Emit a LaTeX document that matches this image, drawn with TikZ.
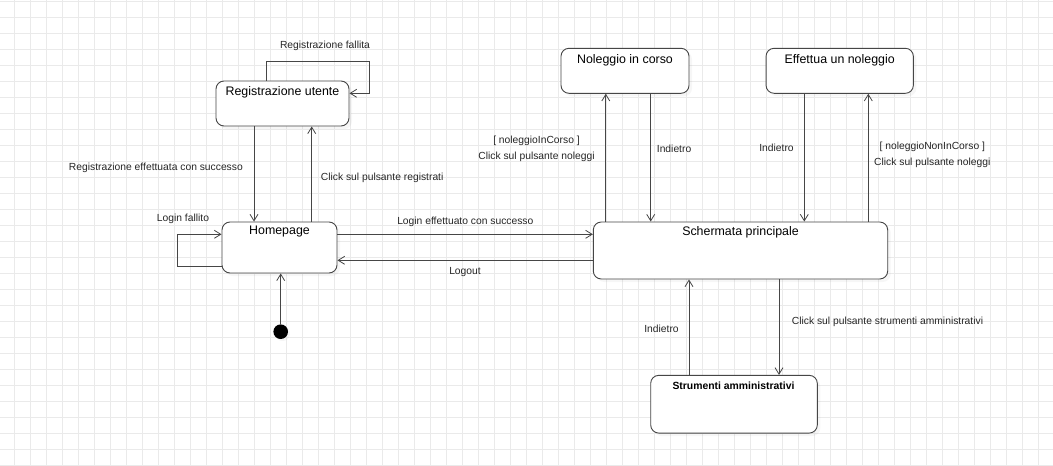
\documentclass[tikz,border=0pt]{standalone}
\usepackage{fontspec}
\setmainfont{Liberation Sans}
\usetikzlibrary{arrows.meta,shadows}

\begin{document}
\begin{tikzpicture}[x=1pt,y=-1pt]
\definecolor{Gridgray}{RGB}{234,234,234}
\definecolor{Linegray}{RGB}{70,70,70}
\tikzstyle{state} = [draw=Linegray, line width=0.9pt, fill=white, rounded corners=8pt, inner sep=0,
  drop shadow={shadow xshift=3pt, shadow yshift=-3pt, opacity=0.07}]
\tikzstyle{title} = [font=\fontsize{12.4}{14}\selectfont, inner sep=0]
\tikzstyle{lbl} = [font=\fontsize{10.3}{15.8}\selectfont, inner sep=0, align=center, text=black!85]
\tikzstyle{trans} = [draw=Linegray, line width=0.8pt, -{Straight Barb[length=6.5pt,width=8pt]}]

% background grid
\useasboundingbox (0,0) rectangle (1053,466);
\fill[white] (0,0) rectangle (1053,466);
\foreach \gx in {0,...,64}
  \draw[Gridgray, line width=0.8pt] (14.3+16*\gx,0) -- (14.3+16*\gx,466);
\foreach \gy in {0,...,29}
  \draw[Gridgray, line width=0.8pt] (0,1.7+16*\gy) -- (1053,1.7+16*\gy);

% states
\node[state, minimum width=133pt, minimum height=45pt] (reg) at (282.5,103.5) {};
\node[state, minimum width=115pt, minimum height=51pt] (home) at (279.5,247.5) {};
\node[state, minimum width=294.4pt, minimum height=57pt] (main) at (740.5,250.5) {};
\node[state, minimum width=128pt, minimum height=45pt] (corso) at (625,70.8) {};
\node[state, minimum width=147.3pt, minimum height=45pt] (effettua) at (839.7,70.8) {};
\node[state, minimum width=166.6pt, minimum height=57.7pt] (admin) at (734,404.2) {};
\node[circle, fill=black, minimum size=14.6pt, inner sep=0,
  drop shadow={shadow xshift=2pt, shadow yshift=-2pt, opacity=0.08}] (start) at (280.7,331.7) {};

\node[title] (regt) at (282.5,92) {Registrazione utente};
\node[title] (homet) at (279.5,232) {Homepage};
\node[title] (maint) at (740.5,232) {Schermata principale};
\node[title] (corsot) at (625,60) {Noleggio in corso};
\node[title] (effettuat) at (839.7,60) {Effettua un noleggio};
\node[title, font=\fontsize{10.4}{12}\selectfont\bfseries] (admint) at (733.5,386) {Strumenti amministrativi};

% transitions
\draw[trans] (reg.north -| 266.7,0) |- (369,61.7) |- (reg.east |- 0,93.3);
\draw[trans] (reg.south -| 254,0) -- (home.north -| 254,0);
\draw[trans] (home.north -| 311.7,0) -- (reg.south -| 311.7,0);
\draw[trans] (home.west |- 0,266) -- (177.3,266) -- (177.3,234.3) -- (home.west |- 0,234.3);
\draw[trans] (start) -- (home.south -| start);
\draw[trans] (home.east |- 0,234.3) -- (main.west |- 0,234.3);
\draw[trans] (main.west |- 0,260.3) -- (home.east |- 0,260.3);
\draw[trans] (main.north -| 605.8,0) -- (corso.south -| 605.8,0);
\draw[trans] (corso.south -| 650.7,0) -- (main.north -| 650.7,0);
\draw[trans] (main.north -| 868.3,0) -- (effettua.south -| 868.3,0);
\draw[trans] (effettua.south -| 804.3,0) -- (main.north -| 804.3,0);
\draw[trans] (main.south -| 779,0) -- (admin.north -| 779,0);
\draw[trans] (admin.north -| 689,0) -- (main.south -| 689,0);

% labels
\node[lbl] (l1) at (325,45.7) {Registrazione fallita};
\node[lbl, anchor=east] (l2) at (243,168) {Registrazione effettuata con successo};
\node[lbl, anchor=west] (l3) at (320.7,177.7) {Click sul pulsante registrati};
\node[lbl] (l4) at (183,219) {Login fallito};
\node[lbl] (l5) at (465.3,222) {Login effettuato con successo};
\node[lbl] (l6) at (465,271.7) {Logout};
\node[lbl] (l7) at (536.5,148.6) {[ noleggioInCorso ]\\Click sul pulsante noleggi};
\node[lbl, anchor=west] (l8) at (656.7,149.3) {Indietro};
\node[lbl] (l9) at (776.5,148.3) {Indietro};
\node[lbl] (l10) at (932.3,154.7) {[ noleggioNonInCorso ]\\Click sul pulsante noleggi};
\node[lbl, anchor=west] (l11) at (791.7,321.7) {Click sul pulsante strumenti amministrativi};
\node[lbl] (l12) at (661.5,329) {Indietro};

\end{tikzpicture}
\end{document}
